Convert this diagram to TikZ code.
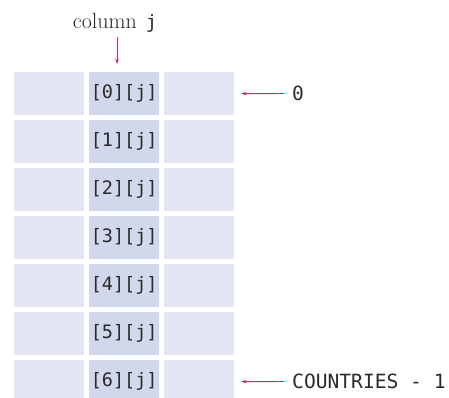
\documentclass[tikz,border=0pt]{standalone}
\usepackage{fontspec}
\setmonofont{DejaVu Sans Mono}
\usetikzlibrary{arrows.meta}
\definecolor{cellA}{HTML}{E3E7F4}
\definecolor{cellB}{HTML}{D2D8EB}
\definecolor{arrc}{HTML}{CC2A5C}
\definecolor{txt}{HTML}{2A2A2A}
\tikzset{
  cell/.style={fill=cellA, draw=none, minimum width=70pt, minimum height=43pt, inner sep=0pt, anchor=north west},
  midcell/.style={cell, fill=cellB, text=txt, font=\fontsize{18.5}{22}\ttfamily},
  arr/.style={draw=arrc, line width=0.9pt, -{Stealth[length=5pt,width=3.6pt]}},
  lab/.style={inner sep=0pt, anchor=west, text=txt, font=\fontsize{19.6}{23}\ttfamily},
}
\begin{document}
\begin{tikzpicture}[x=1pt,y=1pt]
\useasboundingbox (0,0) rectangle (449,398);
\foreach \i in {0,...,6}{
  \node[cell] (c\i0) at (14,{398-72-48*\i}) {};
  \node[midcell] (c\i1) at (89,{398-72-48*\i}) {[\i][j]};
  \node[cell] (c\i2) at (164,{398-72-48*\i}) {};
}
\node[anchor=base, inner sep=0pt, text=txt, font=\fontsize{22}{26}\selectfont] (title) at (115,{398-28.3}) {column\hspace{9pt}{\fontsize{18.5}{22}\ttfamily j}};
\coordinate (ctop) at (117,{398-64});
\coordinate (cstart) at (117,{398-37});
\draw[arr] (cstart) -- (ctop);
\node[lab] (l0) at (292,{398-93.5}) {0};
\node[lab] (l6) at (292,{398-381.5}) {COUNTRIES - 1};
\draw[arr, shorten <=8pt, shorten >=7pt] (l0.west) -- (c02.east);
\draw[arr, shorten <=8pt, shorten >=7pt] (l6.west) -- (c62.east);
\end{tikzpicture}
\end{document}
